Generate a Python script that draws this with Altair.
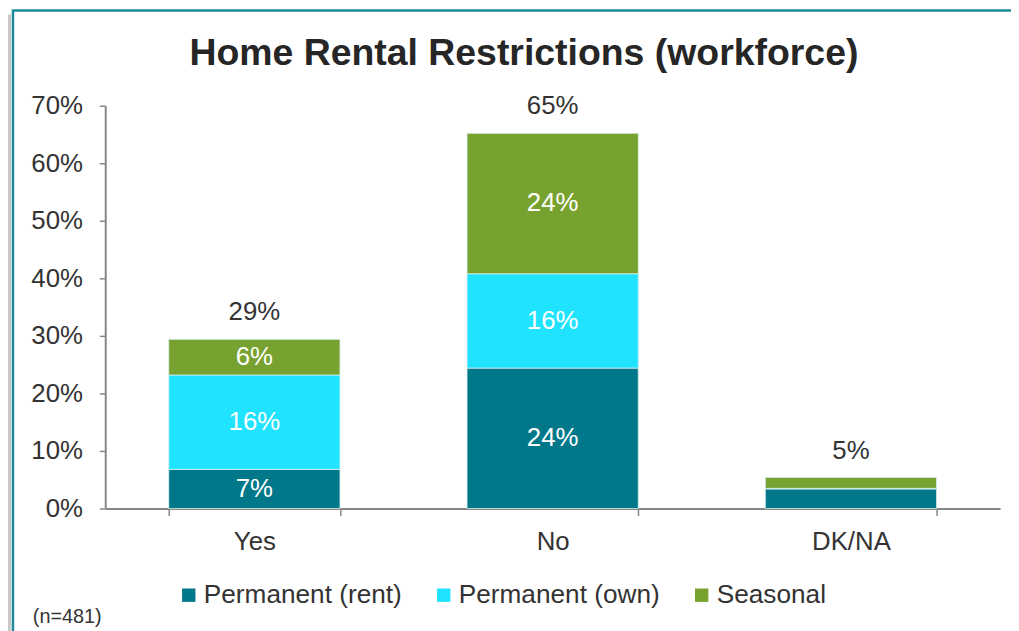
import altair as alt
import pandas as pd

categories = ["Yes", "No", "DK/NA"]
series = ["Permanent (rent)", "Permanent (own)", "Seasonal"]
rent_vals = [6.8, 24.4, 3.4]
own_vals = [16.4, 16.4, 0.1]
seasonal_vals = [6.2, 24.4, 1.9]
colors = ["#00788A", "#1FE3FF", "#78A22F"]
y_ticks = [0, 10, 20, 30, 40, 50, 60, 70]
title_text = "Home Rental Restrictions (workforce)"
note_text = "(n=481)"

rows = []
for i, c in enumerate(categories):
    for j, (s, vals) in enumerate(zip(series, [rent_vals, own_vals, seasonal_vals])):
        rows.append({"cat": c, "series": s, "value": vals[i], "order": j})
df = pd.DataFrame(rows)
totals = pd.DataFrame({"cat": categories,
                       "total": [r + o + s for r, o, s in zip(rent_vals, own_vals, seasonal_vals)]})

FONT = "Liberation Sans"
TXT = "#333333"
AX = "#868686"

xenc = alt.X("cat:N", sort=categories, title=None,
             scale=alt.Scale(paddingInner=0.426, paddingOuter=0.213),
             axis=alt.Axis(labelAngle=0, labelFontSize=26, labelColor=TXT, labelFont=FONT,
                           tickBand="extent", tickColor=AX, tickSize=7, tickWidth=1.5,
                           domainColor=AX, domainWidth=2, labelPadding=13))
yenc = alt.Y("value:Q", stack="zero", title=None,
             scale=alt.Scale(domain=[0, 70], nice=False),
             axis=alt.Axis(values=y_ticks, labelExpr="datum.value + '%'", grid=False,
                           labelFontSize=26, labelColor=TXT, labelFont=FONT,
                           tickColor=AX, tickSize=6, tickWidth=1.5,
                           domainColor=AX, domainWidth=2, labelPadding=17))

base = alt.Chart(df)
bars = base.mark_bar(stroke="#d9eef2", strokeWidth=0.8).encode(
    x=xenc,
    y=yenc,
    color=alt.Color("series:N", sort=series, title=None,
                    scale=alt.Scale(domain=series, range=colors),
                    legend=alt.Legend(orient="none", legendX=71, legendY=480, padding=0,
                                      direction="horizontal", symbolType="square",
                                      symbolSize=182, symbolStrokeWidth=0,
                                      labelFontSize=26.4, labelColor=TXT, labelFont=FONT,
                                      labelLimit=0, labelOffset=2, columnPadding=29)),
    order=alt.Order("order:Q"),
)

seg_labels = base.transform_stack(
    stack="value", groupby=["cat"], as_=["v0", "v1"], sort=[alt.SortField("order")]
).transform_calculate(
    mid="(datum.v0 + datum.v1) / 2",
    lab="round(datum.value) + '%'"
).transform_filter("datum.value >= 5").mark_text(
    color="white", fontSize=26, font=FONT, baseline="middle"
).encode(
    x=alt.X("cat:N", sort=categories),
    y=alt.Y("mid:Q"),
    text="lab:N",
)

tot_labels = alt.Chart(totals).transform_calculate(
    lab="round(datum.total) + '%'"
).mark_text(color=TXT, fontSize=26, font=FONT, baseline="alphabetic", dy=-19).encode(
    x=alt.X("cat:N", sort=categories),
    y=alt.Y("total:Q"),
    text="lab:N",
)

title = alt.Chart(pd.DataFrame({"t": [title_text]})).mark_text(
    color="#262626", fontSize=37.7, fontWeight="bold", font=FONT,
    align="center", baseline="alphabetic"
).encode(x=alt.value(422), y=alt.value(-41), text="t:N")

note = alt.Chart(pd.DataFrame({"t": [note_text]})).mark_text(
    color=TXT, fontSize=20, font=FONT, align="left", baseline="alphabetic"
).encode(x=alt.value(-73), y=alt.value(521), text="t:N")

frame = alt.Chart(pd.DataFrame({"t": [0]})).mark_rect(
    filled=False, stroke="#1F8A9A", strokeWidth=2.5
).encode(x=alt.value(-93), x2=alt.value(1200), y=alt.value(-96), y2=alt.value(800))

shadow = alt.Chart(pd.DataFrame({"t": [0]})).mark_rule(
    color="#c8c8c8", strokeWidth=3
).encode(x=alt.value(-96.5), y=alt.value(-92), y2=alt.value(800))

chart = alt.layer(shadow, frame, bars, seg_labels, tot_labels, title, note).properties(
    width=902, height=406,
    autosize=alt.AutoSizeParams(type="none"),
    padding={"left": 98, "top": 96, "right": 11, "bottom": 121},
    background="white",
).configure_view(stroke=None)

chart.save("out.html", embed_options={"renderer": "svg", "actions": False})
